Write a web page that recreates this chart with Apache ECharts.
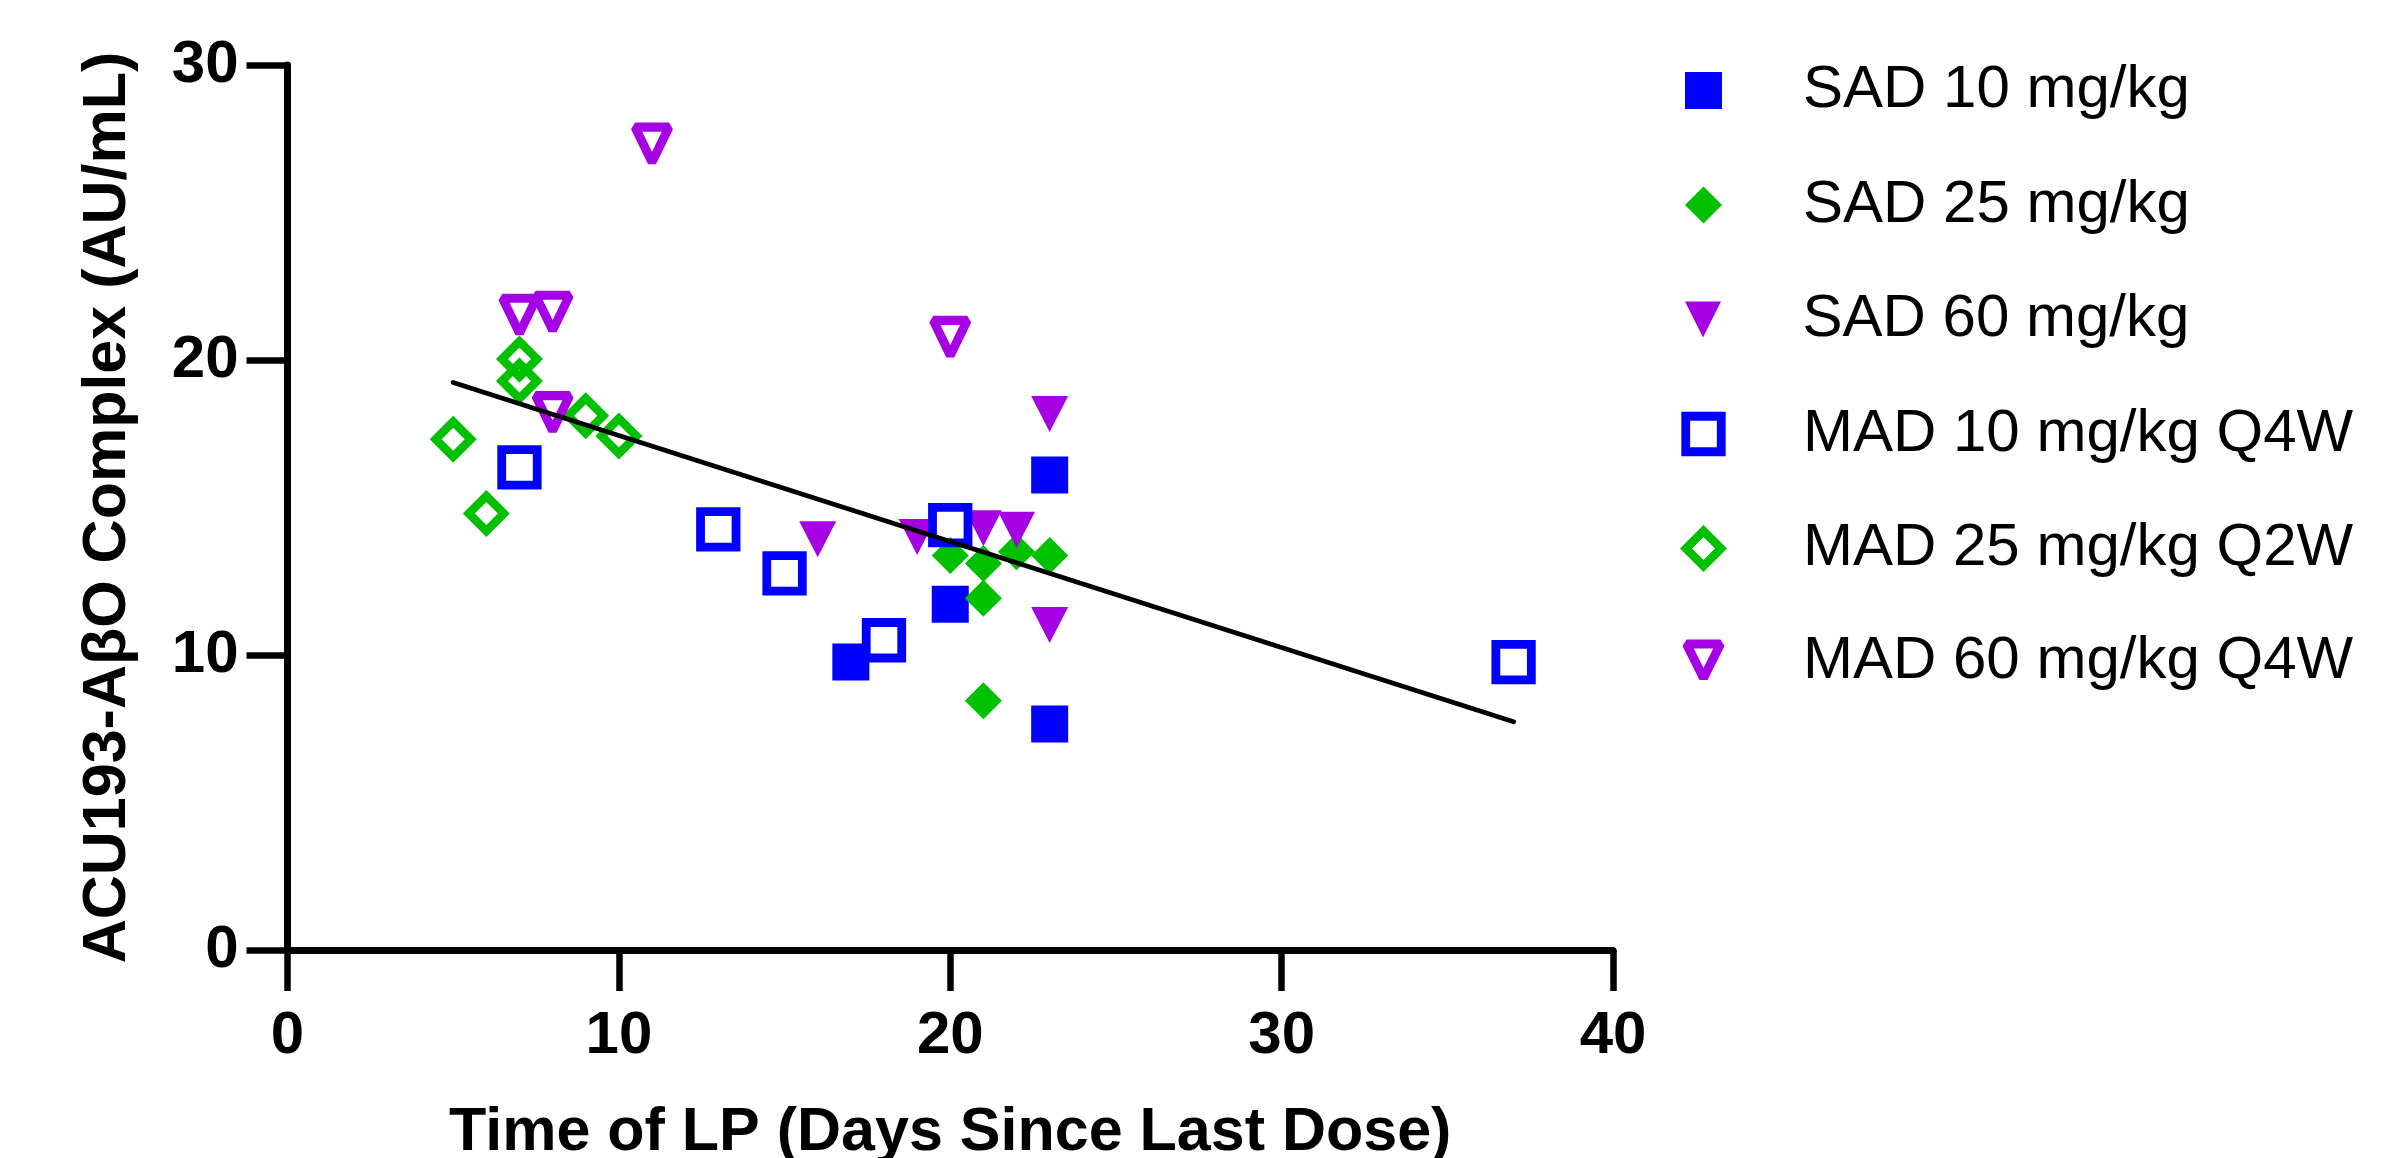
<!DOCTYPE html>
<html><head><meta charset="utf-8">
<script src="https://cdn.jsdelivr.net/npm/echarts@6/dist/echarts.min.js"></script>
<style>html,body{margin:0;padding:0;background:#fff}#c{width:2383px;height:1158px}</style>
</head><body><div id="c"></div>
<script>
// ---- data ----
const seriesNames = ['SAD 10 mg/kg','SAD 25 mg/kg','SAD 60 mg/kg','MAD 10 mg/kg Q4W','MAD 25 mg/kg Q2W','MAD 60 mg/kg Q4W'];
const sad10 = [[17,9.76],[20,11.72],[23,16.1],[23,7.66]];
const sad25 = [[20,13.37],[21,13.1],[21,11.92],[22,13.5],[23,13.37],[21,8.45]];
const sad60 = [[16,13.92],[19,14.0],[21,14.3],[22,14.25],[23,18.17],[23,11.02]];
const mad10 = [[7,16.36],[13,14.26],[15,12.77],[18,10.5],[20,14.4],[37,9.76]];
const mad25 = [[5,17.31],[6,14.8],[7,20.03],[7,19.29],[9,18.11],[10,17.42]];
const mad60 = [[7,21.5],[8,21.6],[8,18.2],[11,27.3],[20,20.75]];
const trendLine = [[5,19.24],[37,7.74]];
const xTicks = [0,10,20,30,40];
const yTicks = [0,10,20,30];
const xTitle = 'Time of LP (Days Since Last Dose)';
const yTitle = 'ACU193-A\u03b2O Complex (AU/mL)';

// ---- styles ----
const BLUE = '#0000FF', GREEN = '#00C000', PURPLE = '#A600E4';
const TRI = 'path://M0,0L20,0L10,20Z';
const FONT = '"Liberation Sans", Arial, sans-serif';
const allData = [sad10, sad25, sad60, mad10, mad25, mad60];
const markers = [
  {symbol:'rect', size:[37,37], color:BLUE, bw:0, join:'miter'},
  {symbol:'diamond', size:[37,37], color:GREEN, bw:0, join:'miter'},
  {symbol:TRI, size:[37,36], color:PURPLE, bw:0, join:'miter'},
  {symbol:'rect', size:[35.5,35.5], color:BLUE, bw:8.8, join:'miter'},
  {symbol:'diamond', size:[35,35], color:GREEN, bw:8.5, join:'miter'},
  {symbol:TRI, size:[34,35], color:PURPLE, bw:9, join:'bevel'}
];
const legendCX = 1703.5;
const legendRows = [90.5, 205, 319.5, 434, 548.5, 661];
const legendTextX = 1803;

const series = allData.map((d, i) => {
  const m = markers[i];
  const open = m.bw > 0;
  return {
    name: seriesNames[i], type: 'scatter', data: d,
    symbol: m.symbol, symbolSize: m.size,
    itemStyle: {
      color: open ? 'rgba(255,255,255,0)' : m.color,
      borderColor: m.color, borderWidth: m.bw, borderJoin: m.join, opacity: 1
    },
    emphasis: {disabled: true}, z: 2 + i
  };
});
series.push({
  name: 'fit', type: 'line', data: trendLine, symbol: 'none',
  lineStyle: {color: '#000', width: 4.8, cap: 'round'}, z: 20, silent: true
});

const legends = markers.map((m, i) => {
  const w = m.size[0], h = m.size[1];
  const left = legendCX - w / 2 - m.bw / 2;
  const pad = legendTextX - (legendCX + w / 2) - 5;
  return {
    data: [seriesNames[i]], orient: 'vertical', padding: 0,
    left: left, top: legendRows[i] - 30,
    itemWidth: w, itemHeight: h, selectedMode: false,
    itemStyle: {borderWidth: m.bw, borderJoin: m.join},
    textStyle: {color: '#000', fontSize: 60, fontFamily: FONT, lineHeight: 60, padding: [0,0,0,pad]}
  };
});

const chart = echarts.init(document.getElementById('c'), null, {renderer: 'canvas'});
chart.setOption({
  animation: false,
  backgroundColor: '#fff',
  grid: {left: 287.5, right: 770, top: 65, bottom: 208, containLabel: false, outerBoundsMode: 'none'},
  legend: legends,
  xAxis: {
    type: 'value', min: xTicks[0], max: xTicks[xTicks.length - 1], interval: xTicks[1] - xTicks[0],
    splitLine: {show: false},
    axisLine: {show: true, onZero: false, lineStyle: {color: '#000', width: 7, cap: 'round'}},
    axisTick: {show: true, length: 41, lineStyle: {color: '#000', width: 6.5}},
    axisLabel: {color: '#000', fontSize: 60, fontWeight: 'bold', fontFamily: FONT, margin: 56},
    name: xTitle, nameLocation: 'middle', nameGap: 153,
    nameTextStyle: {color: '#000', fontSize: 61, fontWeight: 'bold', fontFamily: FONT, lineHeight: 61}
  },
  yAxis: {
    type: 'value', min: yTicks[0], max: yTicks[yTicks.length - 1], interval: yTicks[1] - yTicks[0],
    splitLine: {show: false},
    axisLine: {show: true, onZero: false, lineStyle: {color: '#000', width: 7, cap: 'round'}},
    axisTick: {show: true, length: 41, lineStyle: {color: '#000', width: 6.5}},
    axisLabel: {color: '#000', fontSize: 60, fontWeight: 'bold', fontFamily: FONT, margin: 49},
    name: yTitle, nameLocation: 'middle', nameGap: 149,
    nameTextStyle: {color: '#000', fontSize: 61, fontWeight: 'bold', fontFamily: FONT, lineHeight: 61}
  },
  series: series
});
</script></body></html>
